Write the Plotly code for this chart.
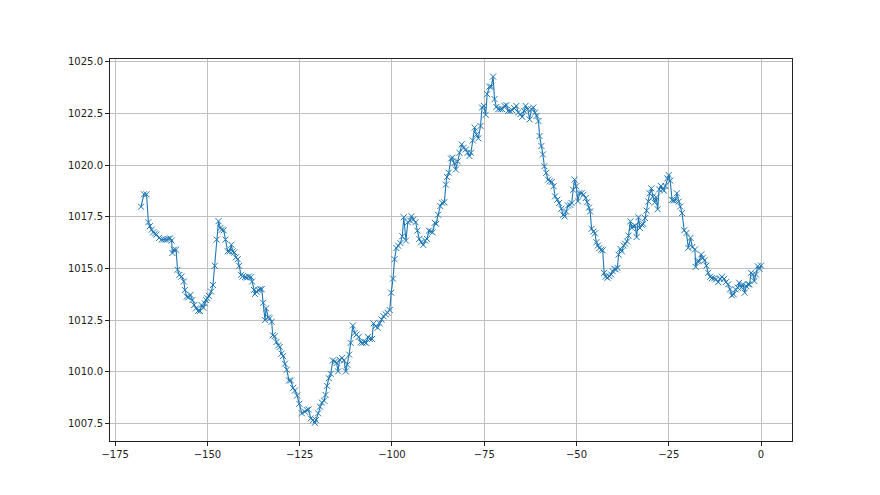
import plotly.graph_objects as go

hours = [
    -168.0, -167.2, -166.5, -166.0, -165.6, -165.1, -164.7, -164.2, -163.8, -163.1,
    -162.4, -161.8, -161.2, -160.6, -160.1, -159.7, -159.5, -159.1, -158.5, -158.1,
    -157.6, -157.0, -156.4, -156.1, -155.6, -155.2, -154.6, -154.1, -153.6, -153.1,
    -152.5, -152.0, -151.6, -151.1, -150.7, -150.4, -150.0, -149.6, -149.0, -148.5,
    -148.0, -147.5, -147.0, -146.5, -146.1, -145.6, -145.1, -144.5, -144.0, -143.5,
    -143.2, -142.7, -142.3, -141.8, -141.4, -140.9, -140.5, -139.8, -139.3, -138.8,
    -138.2, -137.9, -137.4, -137.1, -136.7, -136.2, -135.7, -135.3, -134.9, -134.4,
    -134.1, -133.5, -133.1, -132.6, -132.3, -131.8, -131.3, -130.8, -130.4, -129.9,
    -129.5, -129.0, -128.5, -127.9, -127.4, -126.8, -126.3, -125.7, -125.1,
    -124.4, -123.6, -123.1, -122.6, -122.0, -121.4, -120.9, -120.6, -120.0, -119.5,
    -119.0, -118.4, -118.0, -117.6, -117.1, -116.6, -116.0, -115.4, -115.0, -114.6,
    -114.2, -113.5, -113.0, -112.5, -112.1, -111.6, -111.2, -110.6, -110.1, -109.6,
    -109.0, -108.5, -108.0, -107.4, -107.0, -106.5, -106.0, -105.4, -105.0, -104.4,
    -103.9, -103.3, -102.8, -102.3, -101.7, -101.2, -100.6, -100.2, -99.7, -99.3,
    -98.8, -98.3, -97.7, -97.2, -96.8, -96.2, -95.7, -95.1, -94.7, -94.2,
    -93.6, -93.1, -92.6, -92.1, -91.5, -91.0, -90.5, -90.0, -89.4, -89.0,
    -88.4, -88.0, -87.5, -86.9, -86.4, -85.8, -85.4, -85.1, -84.6, -84.0,
    -83.6, -83.1, -82.7, -82.2, -81.7, -81.1, -80.6, -80.0, -79.5, -79.0,
    -78.6, -78.1, -77.6, -77.1, -76.6, -76.0, -75.6, -75.1, -74.6, -74.2,
    -73.6, -73.1, -72.6, -72.2, -71.7, -71.2, -70.6, -70.1, -69.5, -69.0,
    -68.5, -68.0, -67.4, -66.9, -66.3, -65.8, -65.2, -64.7, -64.2, -63.8,
    -63.2, -62.7, -62.2, -61.7, -61.2, -60.8, -60.3, -60.0, -59.5, -59.1,
    -58.7, -58.2, -57.7, -57.2, -56.7, -56.2, -55.8, -55.2, -54.7, -54.1,
    -53.6, -53.2, -52.8, -52.3, -51.7, -51.3, -50.9, -50.5, -50.1, -49.6,
    -49.2, -48.6, -48.1, -47.5, -47.1, -46.6, -46.3, -45.9, -45.4, -45.0,
    -44.6, -44.2, -43.8, -43.3, -42.9, -42.5, -42.1, -41.6, -41.1, -40.6,
    -40.2, -39.7, -39.3, -38.9, -38.6, -38.1, -37.7, -37.2, -36.8, -36.3,
    -35.9, -35.4, -35.0, -34.6, -34.1, -33.7, -33.2, -32.8, -32.3, -31.9,
    -31.4, -31.0, -30.5, -30.2, -29.7, -29.3, -28.8, -28.4, -28.0, -27.6,
    -27.1, -26.7, -26.3, -25.9, -25.4, -25.0, -24.6, -24.1, -23.7, -23.2,
    -22.8, -22.3, -21.9, -21.4, -20.8, -20.2, -19.7, -19.1, -18.6, -17.9,
    -17.7, -17.2, -16.8, -16.2, -15.8, -15.3, -14.8, -14.3, -13.8, -13.3,
    -12.7, -12.2, -11.6, -11.1, -10.6, -10.0, -9.5, -8.9, -8.4, -7.9,
    -7.4, -6.9, -6.3, -5.9, -5.3, -4.9, -4.4, -4.0, -3.5, -3.1,
    -2.7, -2.2, -1.8, -1.35, -0.9, -0.4, 0.0,
]

pressure = [
    1017.99, 1018.59, 1018.59, 1017.24, 1017.05, 1016.88, 1016.75, 1016.69, 1016.64, 1016.48,
    1016.40, 1016.40, 1016.40, 1016.43, 1016.46, 1016.35, 1015.75, 1015.91, 1015.91, 1014.94,
    1014.69, 1014.61, 1014.37, 1013.96, 1013.64, 1013.60, 1013.72, 1013.47, 1013.23, 1013.07,
    1012.95, 1012.94, 1013.23, 1013.10, 1013.31, 1013.47, 1013.56, 1013.67, 1013.88, 1014.20,
    1015.13, 1016.40, 1017.29, 1016.96, 1016.88, 1016.85, 1016.40, 1015.83, 1015.83, 1016.15,
    1015.83, 1015.78, 1015.54, 1015.45, 1015.13, 1014.69, 1014.61, 1014.58, 1014.56, 1014.61,
    1014.58, 1014.37, 1013.96, 1013.77, 1013.88, 1013.96, 1014.00, 1014.00, 1013.34, 1012.50,
    1013.07, 1012.63, 1012.58, 1012.42, 1011.77, 1011.72, 1011.44, 1011.28, 1011.20, 1010.88,
    1010.76, 1010.39, 1010.10, 1009.58, 1009.58, 1009.22, 1009.09, 1008.85, 1008.45,
    1007.99, 1008.07, 1008.15, 1008.18, 1007.74, 1007.66, 1007.53, 1007.66, 1007.99, 1008.31,
    1008.51, 1008.60, 1008.88, 1009.32, 1009.69, 1009.90, 1010.55, 1010.50, 1010.42, 1010.02,
    1010.58, 1010.67, 1010.55, 1010.02, 1010.34, 1010.83, 1011.40, 1012.24, 1011.88, 1011.80,
    1011.69, 1011.43, 1011.40, 1011.43, 1011.40, 1011.69, 1011.59, 1011.59, 1012.34, 1012.21,
    1012.13, 1012.34, 1012.53, 1012.69, 1012.78, 1012.86, 1012.99, 1013.83, 1014.51, 1015.45,
    1015.99, 1016.10, 1016.23, 1016.56, 1017.48, 1016.35, 1017.24, 1017.32, 1017.53, 1017.37,
    1017.24, 1016.83, 1016.43, 1016.27, 1016.14, 1016.35, 1016.43, 1016.83, 1016.79, 1016.75,
    1017.21, 1017.16, 1017.60, 1018.02, 1018.18, 1018.21, 1019.06, 1019.43, 1019.64, 1020.32,
    1020.36, 1020.10, 1019.79, 1020.19, 1020.60, 1021.01, 1020.84, 1020.76, 1020.60, 1020.44,
    1020.60, 1021.20, 1021.82, 1021.49, 1021.30, 1021.90, 1022.79, 1022.87, 1022.44, 1023.44,
    1023.80, 1023.80, 1024.29, 1023.20, 1022.82, 1022.71, 1022.71, 1022.71, 1022.87, 1022.91,
    1022.63, 1022.63, 1022.66, 1022.76, 1022.87, 1022.55, 1022.47, 1022.34, 1022.63, 1022.87,
    1022.71, 1022.22, 1022.71, 1022.79, 1022.55, 1022.39, 1022.14, 1021.41, 1020.93, 1020.52,
    1019.95, 1019.63, 1019.30, 1019.22, 1019.19, 1018.98, 1018.49, 1018.33, 1018.17, 1017.89,
    1017.60, 1017.52, 1017.76, 1018.05, 1018.08, 1018.17, 1018.81, 1019.30, 1018.98, 1018.25,
    1018.65, 1018.65, 1018.57, 1018.41, 1018.21, 1017.95, 1017.76, 1016.92, 1016.79, 1016.70,
    1016.27, 1016.11, 1015.99, 1015.91, 1015.88, 1014.79, 1014.60, 1014.55, 1014.63, 1014.71,
    1014.87, 1014.98, 1014.95, 1015.03, 1015.67, 1015.95, 1015.83, 1016.11, 1016.20, 1016.31,
    1016.59, 1017.28, 1016.96, 1017.04, 1017.07, 1016.52, 1017.48, 1016.96, 1017.12, 1017.16,
    1017.44, 1017.80, 1018.24, 1018.64, 1018.88, 1018.48, 1018.19, 1018.45, 1017.87, 1018.83,
    1018.99, 1018.83, 1018.77, 1018.99, 1019.36, 1019.52, 1019.25, 1018.32, 1018.30, 1018.30,
    1018.64, 1018.24, 1018.00, 1017.68, 1016.85, 1016.72, 1016.00, 1016.48, 1016.04, 1015.92,
    1015.08, 1015.35, 1015.35, 1015.68, 1015.51, 1015.40, 1015.14, 1014.79, 1014.60, 1014.53,
    1014.52, 1014.47, 1014.34, 1014.50, 1014.60, 1014.50, 1014.34, 1014.23, 1013.99, 1013.70,
    1013.75, 1013.99, 1014.07, 1014.31, 1014.07, 1014.23, 1013.83, 1014.15, 1014.23, 1014.23,
    1014.79, 1014.71, 1014.39, 1014.71, 1015.11, 1014.98, 1015.14,
]

x_ticks = [-175, -150, -125, -100, -75, -50, -25, 0]
y_ticks = [1007.5, 1010.0, 1012.5, 1015.0, 1017.5, 1020.0, 1022.5, 1025.0]

color = "#1f77b4"
fig = go.Figure(
    go.Scatter(
        x=hours, y=pressure, mode="lines+markers",
        line=dict(color=color, width=1.1),
        marker=dict(symbol="x-thin", size=6, line=dict(color=color, width=1), color=color),
        showlegend=False, hoverinfo="x+y",
    )
)

axis_common = dict(
    showline=True, mirror=True, linecolor="#222222", linewidth=1,
    showgrid=True, gridcolor="#c0c0c0", gridwidth=0.8,
    ticks="outside", ticklen=4, tickwidth=0.8, tickcolor="#222222",
    tickfont=dict(family="DejaVu Sans", size=10, color="#222222"),
    zeroline=False,
)

fig.update_xaxes(range=[-176.4, 8.4], tickvals=x_ticks,
                 ticktext=[str(v).replace("-", "\u2212") for v in x_ticks], **axis_common)
fig.update_yaxes(range=[1006.65, 1025.14], tickvals=y_ticks,
                 ticktext=[f"{v:.1f}" for v in y_ticks], **axis_common)

fig.update_layout(
    width=880, height=495,
    margin=dict(l=102, r=96, t=51, b=62),
    paper_bgcolor="white", plot_bgcolor="white",
)

fig.write_html("out.html")
